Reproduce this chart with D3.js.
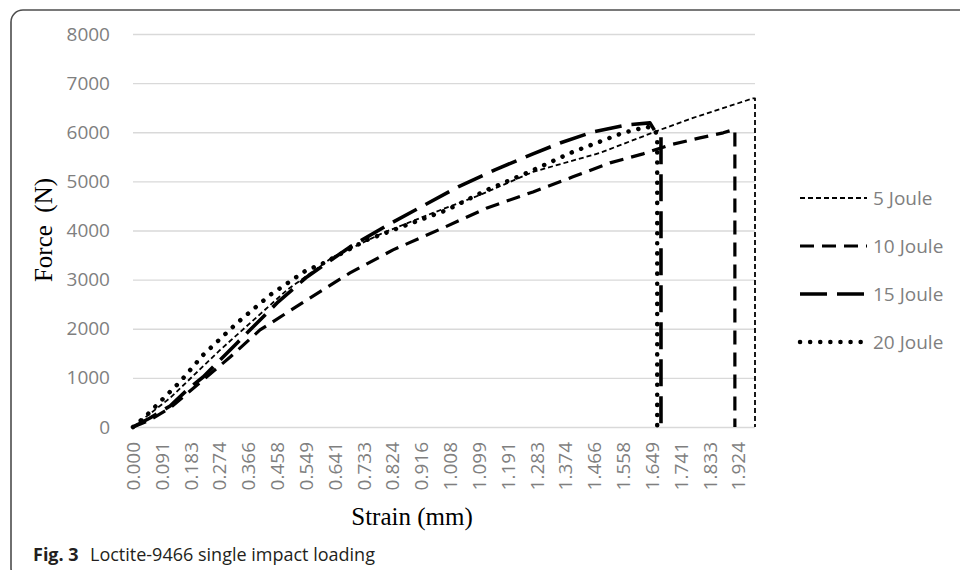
<!DOCTYPE html>
<html>
<head>
<meta charset="utf-8">
<script src="https://cdn.jsdelivr.net/npm/d3@7"></script>
<style>
  body { margin: 0; background: #fff; }
</style>
</head>
<body>
<div id="chart"></div>
<script>
// Strain (mm) and force (N), one pair of arrays per impact energy
const strain5 = [0, 0.118, 0.277, 0.490, 0.636, 0.795, 0.954, 1.104, 1.272, 1.485, 1.676, 1.781, 1.889, 1.972, 1.978, 1.978];
const force5  = [0, 591, 1568, 2790, 3462, 3951, 4358, 4725, 5193, 5580, 6049, 6293, 6517, 6690, 6690, 0];

const strain10 = [0, 0.054, 0.118, 0.223, 0.309, 0.404, 0.553, 0.690, 0.827, 0.986, 1.126, 1.272, 1.399, 1.517, 1.622, 1.708, 1.803, 1.877, 1.908, 1.914, 1.914];
const force10  = [0, 143, 387, 957, 1425, 1976, 2587, 3136, 3605, 4053, 4460, 4786, 5092, 5377, 5560, 5743, 5886, 5988, 6049, 6049, 0];

const strain15 = [0, 0.054, 0.118, 0.172, 0.223, 0.331, 0.458, 0.553, 0.690, 0.811, 0.922, 1.034, 1.151, 1.272, 1.358, 1.463, 1.571, 1.644, 1.667, 1.679, 1.679];
const force15  = [0, 183, 428, 754, 1018, 1711, 2525, 3055, 3666, 4114, 4501, 4888, 5234, 5560, 5780, 6008, 6150, 6190, 5950, 5900, 0];

const strain20 = [0, 0.038, 0.076, 0.149, 0.223, 0.331, 0.436, 0.553, 0.595, 0.744, 0.871, 0.999, 1.126, 1.253, 1.399, 1.558, 1.635, 1.660, 1.667, 1.667];
const force20  = [0, 204, 448, 916, 1466, 2118, 2688, 3198, 3300, 3809, 4114, 4420, 4827, 5173, 5600, 5988, 6110, 6050, 5900, 0];

const seriesNames = ["5 Joule", "10 Joule", "15 Joule", "20 Joule"];

const xTickLabels = ["0.000", "0.091", "0.183", "0.274", "0.366", "0.458", "0.549", "0.641",
  "0.733", "0.824", "0.916", "1.008", "1.099", "1.191", "1.283", "1.374", "1.466", "1.558",
  "1.649", "1.741", "1.833", "1.924"];
const yTicks = [0, 1000, 2000, 3000, 4000, 5000, 6000, 7000, 8000];

const width = 960, height = 570;
const plot = {left: 133, right: 755, top: 34, bottom: 427};

const svg = d3.select("#chart")
  .append("svg")
    .attr("width", width)
    .attr("height", height)
    .attr("viewBox", [0, 0, width, height]);

// figure frame (rounded, running off the right/bottom edge)
svg.append("rect")
  .attr("x", 11).attr("y", 10)
  .attr("width", 1000).attr("height", 570)
  .attr("rx", 12)
  .attr("fill", "none")
  .attr("stroke", "#4d4d4d")
  .attr("stroke-width", 1.6);

const xScale = d3.scaleLinear()
  .domain([0, 1.978])
  .range([plot.left, plot.right]);

const yScale = d3.scaleLinear()
  .domain([0, 8000])
  .range([plot.bottom, plot.top]);

// y axis: gridlines + labels
const yAxis = d3.axisLeft(yScale)
  .tickValues(yTicks)
  .tickSize(-(plot.right - plot.left))
  .tickPadding(23)
  .tickFormat(d3.format("d"));

const yGroup = svg.append("g")
  .attr("transform", `translate(${plot.left}, 0)`)
  .call(yAxis);
yGroup.select(".domain").remove();
yGroup.selectAll(".tick line")
  .attr("stroke", "#d9d9d9")
  .attr("stroke-width", 1.3);
yGroup.selectAll("text")
  .attr("fill", "#7f7f7f")
  .style("font-family", "'Open Sans', sans-serif")
  .style("font-size", "19px");

// x axis: rotated category labels
const xAxis = d3.axisBottom(xScale)
  .tickValues(xTickLabels.map(d => +d))
  .tickSize(0)
  .tickFormat((d, i) => xTickLabels[i]);

const xGroup = svg.append("g")
  .attr("transform", `translate(0, ${plot.bottom})`)
  .call(xAxis);
xGroup.select(".domain").remove();
xGroup.selectAll("text")
  .attr("fill", "#7f7f7f")
  .style("font-family", "'Open Sans', sans-serif")
  .style("font-size", "19px")
  .style("text-anchor", "end")
  .attr("x", -15)
  .attr("y", 0)
  .attr("dy", "0.35em")
  .attr("transform", "rotate(-90)");

// line styles per series
const styles = [
  {width: 1.8, dash: "5 3", cap: "butt"},
  {width: 3.2, dash: "14 8", cap: "butt"},
  {width: 3.6, dash: "27 10", cap: "butt"},
  {width: 4.5, dash: "0.1 10", cap: "round"}
];

const series = [
  {name: seriesNames[0], x: strain5, y: force5},
  {name: seriesNames[1], x: strain10, y: force10},
  {name: seriesNames[2], x: strain15, y: force15},
  {name: seriesNames[3], x: strain20, y: force20}
].map((s, i) => ({...s, style: styles[i], points: s.x.map((v, j) => [v, s.y[j]])}));

const line = d3.line()
  .curve(d3.curveLinear)
  .x(d => xScale(d[0]))
  .y(d => yScale(d[1]));

svg.append("g")
  .selectAll("path")
  .data(series)
  .join("path")
    .attr("d", d => line(d.points))
    .attr("fill", "none")
    .attr("stroke", "#000")
    .attr("stroke-width", d => d.style.width)
    .attr("stroke-dasharray", d => d.style.dash)
    .attr("stroke-linecap", d => d.style.cap)
    .attr("stroke-linejoin", "round");

// legend
const legend = svg.append("g")
  .selectAll("g")
  .data(series)
  .join("g")
    .attr("transform", (d, i) => `translate(800, ${198 + i * 48})`);

legend.append("line")
  .attr("x1", 0).attr("x2", 67)
  .attr("stroke", "#000")
  .attr("stroke-width", d => d.style.width)
  .attr("stroke-dasharray", d => d.style.dash)
  .attr("stroke-linecap", d => d.style.cap);

legend.append("text")
  .attr("x", 73)
  .attr("dy", "0.35em")
  .attr("fill", "#7f7f7f")
  .style("font-family", "'Open Sans', sans-serif")
  .style("font-size", "19px")
  .text(d => d.name);

// axis titles
svg.append("text")
  .attr("transform", "translate(52, 230) rotate(-90)")
  .attr("text-anchor", "middle")
  .style("font-family", "'Liberation Serif', 'Times New Roman', serif")
  .style("font-size", "25px")
  .style("white-space", "pre")
  .text("Force  (N)");

svg.append("text")
  .attr("x", 412)
  .attr("y", 525)
  .attr("text-anchor", "middle")
  .style("font-family", "'Liberation Serif', 'Times New Roman', serif")
  .style("font-size", "25px")
  .text("Strain (mm)");

// caption
const caption = svg.append("text")
  .attr("x", 33)
  .attr("y", 561)
  .style("font-family", "'Open Sans', sans-serif")
  .style("font-size", "18px")
  .attr("fill", "#231f20");
caption.append("tspan").style("font-weight", "bold").text("Fig. 3");
caption.append("tspan").attr("x", 90).text("Loctite-9466 single impact loading");
</script>
</body>
</html>
